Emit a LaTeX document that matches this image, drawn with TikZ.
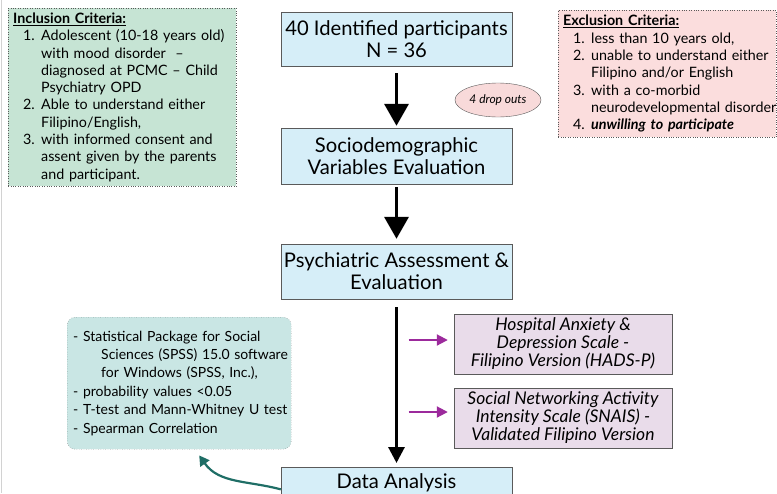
\documentclass[tikz,border=0pt]{standalone}
\usepackage{fontspec}
\setmainfont{Lato}
\usetikzlibrary{arrows.meta,shapes.geometric}
\definecolor{boxblue}{HTML}{D6EEF8}
\definecolor{boxedge}{HTML}{5A5A5A}
\definecolor{inclgreen}{HTML}{C6E4D4}
\definecolor{exclpink}{HTML}{FBDDDD}
\definecolor{droppink}{HTML}{F8DADA}
\definecolor{scalelilac}{HTML}{E9DCEA}
\definecolor{plumarrow}{HTML}{9C2A9C}
\definecolor{statsteal}{HTML}{C9E6E4}
\definecolor{curveteal}{HTML}{1F6E66}
\newcommand{\critnum}[2]{\mbox{\hspace*{10pt}\makebox[18pt][l]{#1}#2}}
\newcommand{\critcont}[1]{\mbox{\hspace*{28pt}#1}}
\newcommand{\statline}[2]{\mbox{\makebox[#1][l]{}#2}}

\begin{document}
\begin{tikzpicture}[x=1pt,y=-1pt,
 stage/.style={draw=boxedge,fill=boxblue,align=center,minimum width=231pt,inner sep=0pt,font=\fontsize{20.2}{22}\selectfont},
 crit/.style={draw=boxedge,dotted,anchor=north west,align=left,inner xsep=5pt,inner ysep=0pt,font=\fontsize{14.3}{17.3}\selectfont},
 scalebox/.style={draw=boxedge,fill=scalelilac,align=center,minimum width=218pt,minimum height=60pt,inner sep=0pt,font=\itshape\fontsize{17.5}{18}\selectfont},
 flow/.style={-{Triangle[length=22pt,width=24pt]},line width=3.5pt},
 longflow/.style={-{Triangle[length=16pt,width=16pt]},line width=3pt},
 sidearrow/.style={-{Triangle[length=11pt,width=11pt]},line width=2pt,plumarrow}]
\useasboundingbox (0,0) rectangle (777,493);
\draw[gray!35] (1.5,0) -- (1.5,493);
\node[crit,fill=inclgreen,text width=218pt,minimum height=178pt] (incl) at (8,8)
 {\textbf{\underline{Inclusion Criteria:}}\\
 \critnum{1.}{Adolescent (10-18 years old)}\\
 \critcont{with mood disorder \ --}\\
 \critcont{diagnosed at PCMC -- Child}\\
 \critcont{Psychiatry OPD}\\
 \critnum{2.}{Able to understand either}\\
 \critcont{Filipino/English,}\\
 \critnum{3.}{with informed consent and}\\
 \critcont{assent given by the parents}\\
 \critcont{and participant.}};
\node[crit,fill=exclpink,text width=208pt,minimum height=127pt] (excl) at (558,10)
 {\textbf{\underline{Exclusion Criteria:}}\\
 \critnum{1.}{less than 10 years old,}\\
 \critnum{2.}{unable to understand either}\\
 \critcont{Filipino and/or English}\\
 \critnum{3.}{with a co-morbid}\\
 \critcont{neurodevelopmental disorder}\\
 \critnum{4.}{\textbf{\textit{unwilling to participate}}}};
\node[stage,minimum height=54pt] (ident) at (396.5,39) {40 Identified participants\\N = 36};
\node[stage,minimum height=56pt] (socio) at (396.5,156) {Sociodemographic\\Variables Evaluation};
\node[stage,minimum height=55pt] (psych) at (396.5,271.5) {Psychiatric Assessment \&\\Evaluation};
\node[stage,anchor=north,inner ysep=6pt] (data) at (396.5,467) {Data Analysis};
\node[ellipse,draw=boxedge,fill=droppink,minimum width=86pt,minimum height=34pt,inner sep=0pt,
 font=\itshape\fontsize{12}{14}\selectfont] (drop) at (498,100) {4 drop outs};
\node[scalebox] (hads) at (563,344) {Hospital Anxiety \&\\Depression Scale -\\Filipino Version (HADS-P)};
\node[scalebox] (snais) at (563,418) {Social Networking Activity\\Intensity Scale (SNAIS) -\\Validated Filipino Version};
\node[crit,fill=statsteal,rounded corners=8pt,inner xsep=6pt,text width=212pt,minimum height=132pt,
 font=\fontsize{14}{18.4}\selectfont] (stats) at (67,317)
 {\statline{0pt}{- Statistical Package for Social}\\
 \statline{28pt}{Sciences (SPSS) 15.0 software}\\
 \statline{28pt}{for Windows (SPSS, Inc.),}\\
 \statline{0pt}{- probability values <0.05}\\
 \statline{0pt}{- T-test and Mann-Whitney U test}\\
 \statline{0pt}{- Spearman Correlation}};
\coordinate (tealend) at ([xshift=20pt,yshift=-6pt]stats.south);
\draw[flow,shorten <=7pt,shorten >=2pt] (ident) -- (socio);
\draw[flow,shorten <=3pt,shorten >=5pt] (socio) -- (psych);
\draw[longflow,shorten <=8pt,shorten >=4pt] (psych) -- (data);
\draw[sidearrow,shorten <=12pt,shorten >=6pt] ([yshift=4pt]hads.west -| psych.south) -- ([yshift=4pt]hads.west);
\draw[sidearrow,shorten <=12pt,shorten >=6pt] ([yshift=6pt]snais.west -| psych.south) -- ([yshift=6pt]snais.west);
\draw[-{Triangle[length=10pt,width=11pt]},line width=2.2pt,curveteal] ([yshift=-7pt]data.west) to[out=165,in=-55] (tealend);
\end{tikzpicture}
\end{document}
